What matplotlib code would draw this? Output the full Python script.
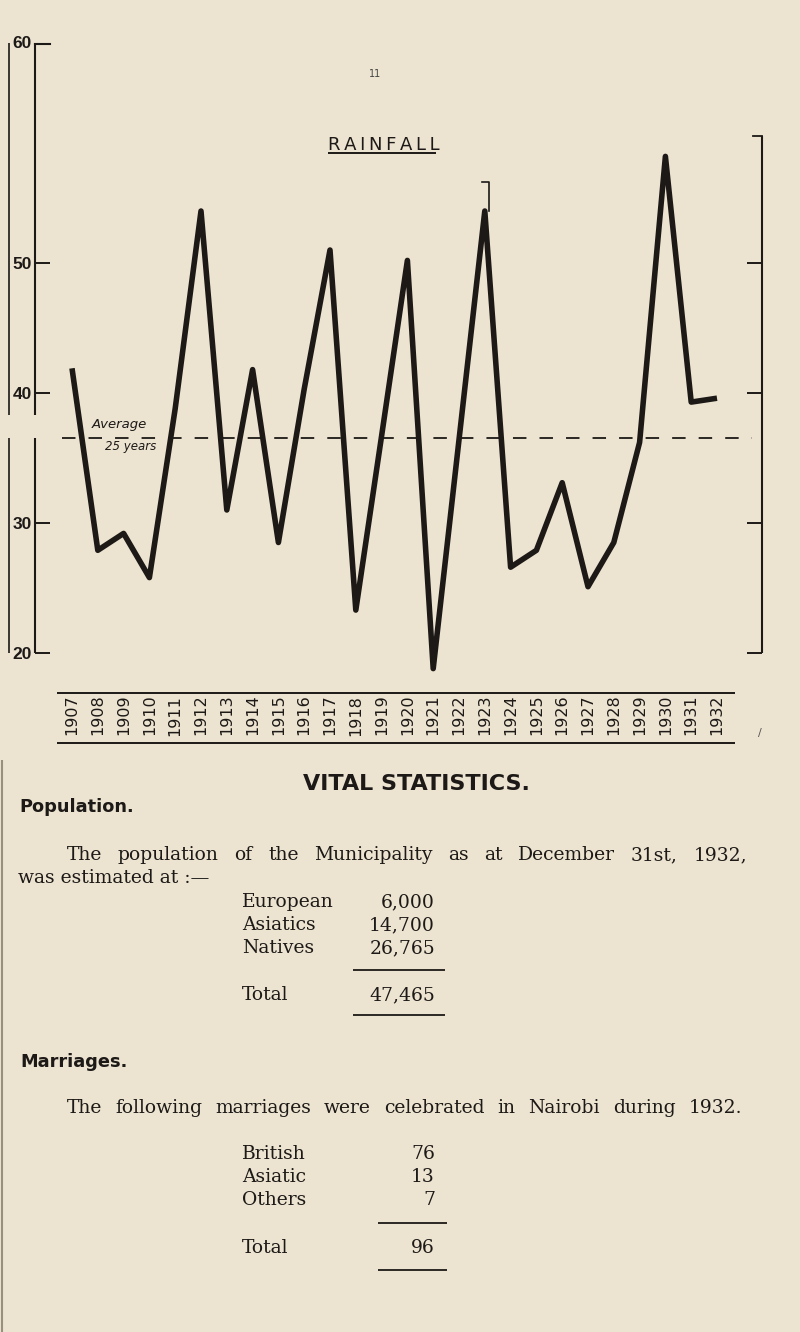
import matplotlib
matplotlib.use("Agg")
import matplotlib.pyplot as plt
from matplotlib.lines import Line2D

# rainfall (inches), 1907-1932
years = list(range(1907, 1933))
rainfall = [41.9, 27.9, 29.2, 25.8, 38.8, 54.0, 31.0, 41.8, 28.5, 40.3,
            51.0, 23.3, 36.7, 50.2, 18.8, 36.4, 54.0, 26.6, 27.9, 33.1,
            25.1, 28.5, 36.2, 58.2, 39.3, 39.6]
average = 36.5
y_ticks = [20, 30, 40, 50]
y_tick_labels = ["20", "30", "40", "50"]
peak_1923_top = 56.2

population_labels = ["European", "Asiatics", "Natives"]
population_values = ["6,000", "14,700", "26,765"]
population_total = "47,465"

marriage_labels = ["British", "Asiatic", "Others"]
marriage_values = ["76", "13", "7"]
marriage_total = "96"

W, H = 800, 1332
PAPER = "#ece3d1"
INK = "#1c1916"

plt.rcParams["lines.scale_dashes"] = False

fig = plt.figure(figsize=(W / 100, H / 100), dpi=100, facecolor=PAPER)


def fx(x):
    return x / W


def fy(y):
    return 1 - y / H


def hline(x0, x1, y, lw=1.3, color=INK):
    fig.add_artist(Line2D([fx(x0), fx(x1)], [fy(y), fy(y)], transform=fig.transFigure,
                          color=color, lw=lw, solid_capstyle="butt"))


def vline(x, y0, y1, lw=1.3, color=INK):
    fig.add_artist(Line2D([fx(x), fx(x)], [fy(y0), fy(y1)], transform=fig.transFigure,
                          color=color, lw=lw, solid_capstyle="butt"))


# ---------------- chart ----------------
px_year = 25.8      # pixels per year
px_unit = 13.0      # pixels per inch of rain
ax = fig.add_axes([fx(35), fy(653), (762 - 35) / W, (653 - 44) / H])
ax.set_facecolor("none")
ytop = 20 + (653 - 44) / px_unit
ax.set_ylim(20, ytop)
xleft = years[0] - (72 - 35) / px_year
ax.set_xlim(xleft, xleft + 727 / px_year)
for s in ax.spines.values():
    s.set_visible(False)

ax.plot(years, rainfall, color=INK, lw=4.0, solid_joinstyle="round",
        solid_capstyle="butt", clip_on=False, zorder=3)
# thin pen stroke above the 1923 peak
x23 = years[16] + 0.15
ax.plot([x23, x23, x23 - 0.25], [rainfall[16], peak_1923_top, peak_1923_top],
        color=INK, lw=1.2, clip_on=False)

# average line
ax.plot([xleft + 27 / px_year, xleft + 717 / px_year], [average, average], color=INK,
        lw=1.3, ls=(0, (9.7, 9.4)))
ax.text(xleft + 57 / px_year, average + 0.6, "Average", fontsize=9.5, style="italic",
        color=INK, va="bottom", ha="left")
ax.text(xleft + 70 / px_year, average - 0.1, "25 years", fontsize=8.5, style="italic",
        color=INK, va="top", ha="left")

# frame: double left line with a break, bracket on the right
yax = ax.get_yaxis_transform()
gap_lo, gap_hi = 36.5, 38.3
for xa, lw in [(0, 1.5), (-26 / 727, 1.2)]:
    ax.plot([xa, xa], [20, gap_lo], transform=yax, color=INK, lw=lw, clip_on=False,
            solid_capstyle="butt")
    ax.plot([xa, xa], [gap_hi, ytop + 0.1], transform=yax, color=INK, lw=lw,
            clip_on=False, solid_capstyle="butt")
ax.plot([0, 15 / 727], [ytop, ytop], transform=yax, color=INK, lw=1.5, clip_on=False)
ax.plot([1, 1], [20, 59.8], transform=yax, color=INK, lw=1.5, clip_on=False,
        solid_capstyle="butt")
ax.plot([1 - 9 / 727, 1], [59.8, 59.8], transform=yax, color=INK, lw=1.3, clip_on=False)

ax.set_yticks(y_ticks)
ax.set_yticklabels(y_tick_labels, fontfamily="Liberation Sans", fontweight="bold",
                   fontsize=12.5, color=INK)
ax.tick_params(axis="y", left=True, right=True, direction="in", length=10.5,
               width=1.4, color=INK, pad=2)
fig.text(fx(32), fy(44), "60", ha="right", va="center", fontfamily="Liberation Sans",
         fontweight="bold", fontsize=12.5, color=INK)

ax.set_xticks(years)
ax.set_xticklabels([str(y) for y in years], rotation=90, fontsize=11.5, color=INK)
ax.tick_params(axis="x", length=0, pad=30)

hline(57, 735, 693, lw=1.4)
hline(57, 735, 743, lw=1.4)
fig.text(fx(760), fy(733), "/", fontsize=8, color="#555", ha="center", va="center")

# title and page number
fig.text(fx(328), fy(150), "R\u2009A\u2009I\u2009N\u2009F\u2009A\u2009L\u2009L",
         fontsize=13, color=INK, va="baseline", ha="left")
hline(328, 436, 153, lw=1.4)
fig.text(fx(375), fy(74), "11", fontsize=7, color="#444", ha="center", va="center")

# ---------------- text below ----------------
serif = dict(fontfamily="DejaVu Serif", fontsize=13.5, color=INK, va="baseline")
bold = dict(fontfamily="DejaVu Sans", fontweight="bold", color=INK, va="baseline")

renderer = fig.canvas.get_renderer()


def justified(text, x0, x1, y):
    words = text.split()
    ts = [fig.text(0, fy(y), w, ha="left", **serif) for w in words]
    widths = [t.get_window_extent(renderer).width for t in ts]
    gap = (x1 - x0 - sum(widths)) / (len(words) - 1)
    x = x0
    for t, w in zip(ts, widths):
        t.set_x(fx(x))
        x += w + gap


fig.text(fx(303), fy(790), "VITAL STATISTICS.", fontsize=16, ha="left", **bold)
fig.text(fx(19), fy(812), "Population.", fontsize=12.8, ha="left", **bold)
justified("The population of the Municipality as at December 31st, 1932,", 67, 747, 860)
fig.text(fx(18), fy(883), "was estimated at :\u2014", ha="left", **serif)

for i, (lab, val) in enumerate(zip(population_labels, population_values)):
    yb = 907 + i * 23
    fig.text(fx(242), fy(yb), lab, ha="left", **serif)
    fig.text(fx(435), fy(yb), val, ha="right", **serif)
hline(353, 445, 970, lw=1.3)
fig.text(fx(242), fy(1000), "Total", ha="left", **serif)
fig.text(fx(435), fy(1000), population_total, ha="right", **serif)
hline(353, 445, 1015, lw=1.3)

fig.text(fx(20), fy(1067), "Marriages.", fontsize=12.8, ha="left", **bold)
justified("The following marriages were celebrated in Nairobi during 1932.", 67, 742, 1113)

for i, (lab, val) in enumerate(zip(marriage_labels, marriage_values)):
    yb = 1159 + i * 23
    fig.text(fx(242), fy(yb), lab, ha="left", **serif)
    fig.text(fx(435), fy(yb), val, ha="right", **serif)
hline(378, 447, 1223, lw=1.3)
fig.text(fx(242), fy(1253), "Total", ha="left", **serif)
fig.text(fx(435), fy(1253), marriage_total, ha="right", **serif)
hline(378, 447, 1270, lw=1.3)

# page edge
vline(1.5, 760, 1332, lw=1.5, color="#9a8f7e")

fig.savefig("out.png", dpi=100, facecolor=PAPER)
